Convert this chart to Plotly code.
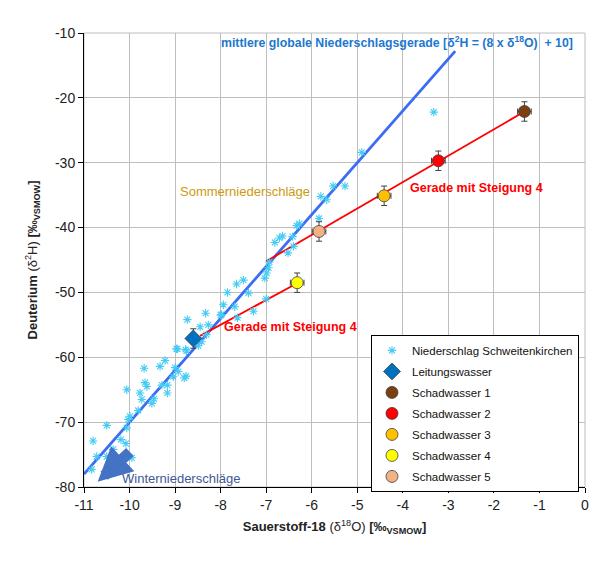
import plotly.graph_objects as go

# --- data ---
precip_x = [-10.83, -10.80, -10.72, -10.50, -10.50, -10.36, -10.19, -10.08, -9.95, -10.06,
            -10.03, -10.06, -9.81, -9.73, -9.77, -9.62, -9.66, -9.68, -9.51, -9.46,
            -9.33, -9.22, -9.29, -9.17, -9.17, -9.04, -9.00, -8.93, -8.80, -8.76,
            -8.95, -8.75, -8.73, -8.49, -8.42, -8.45, -8.33, -8.27, -8.31, -8.00,
            -7.98, -7.94, -7.85, -7.69, -7.63, -7.65, -7.50, -7.39, -7.28, -7.00,
            -7.03, -6.99, -6.95, -6.93, -6.81, -6.71, -6.64, -6.52, -6.40, -6.33,
            -6.27, -6.42, -5.84, -5.80, -5.67, -5.53, -5.27, -4.90, -3.32, -9.99,
            -8.97, -8.77]
precip_y = [-77.3, -72.9, -75.3, -75.3, -70.5, -74.2, -72.7, -73.3, -75.5, -70.9,
            -69.6, -65.0, -68.2, -66.5, -65.5, -64.5, -63.9, -61.7, -67.1, -66.4,
            -61.4, -60.5, -64.3, -65.5, -64.3, -63.0, -61.6, -62.2, -63.2, -62.9,
            -58.7, -59.0, -54.2, -58.2, -57.6, -55.3, -53.2, -55.0, -56.5, -53.5,
            -53.4, -51.9, -50.0, -52.2, -53.9, -48.7, -48.1, -50.1, -52.9, -51.0,
            -47.8, -47.0, -46.2, -45.3, -42.3, -41.6, -41.3, -43.9, -42.9, -39.7,
            -39.4, -41.4, -38.6, -35.2, -35.7, -33.6, -33.6, -28.4, -22.2, -69.1,
            -58.7, -58.8]

gmwl_x = [-11.0, -2.85]
gmwl_y = [-78.0, -12.8]

slope4a_x = [-7.0, -1.3]
slope4a_y = [-45.2, -22.0]
slope4b_x = [-8.45, -6.3]
slope4b_y = [-56.7, -48.5]

samples = ["Leitungswasser", "Schadwasser 1", "Schadwasser 2", "Schadwasser 3",
           "Schadwasser 4", "Schadwasser 5"]
sample_x = [-8.6, -1.33, -3.22, -4.41, -6.32, -5.84]
sample_y = [-57.1, -22.1, -29.7, -35.1, -48.5, -40.6]
sample_err_y = [1.5, 1.5, 1.5, 1.5, 1.5, 1.5]
sample_err_x = [0.0, 0.15, 0.15, 0.15, 0.15, 0.15]
sample_colors = ["#0070C0", "#7B3F12", "#FF0000", "#FFC000", "#FFFF00", "#F4B183"]
sample_symbols = ["diamond", "circle", "circle", "circle", "circle", "circle"]

x_ticks = [-11, -10, -9, -8, -7, -6, -5, -4, -3, -2, -1, 0]
x_ticklabels = ["-11", "-10", "-9", "-8", "-7", "-6", "-5", "-4", "-3", "-2", "-1", "0"]
y_ticks = [-80, -70, -60, -50, -40, -30, -20, -10]
y_ticklabels = ["-80", "-70", "-60", "-50", "-40", "-30", "-20", "-10"]

FONT = "Liberation Sans, Arial, sans-serif"

fig = go.Figure()

fig.add_trace(go.Scatter(x=gmwl_x, y=gmwl_y, mode="lines",
                         line=dict(color="#3A6CF4", width=2.8),
                         showlegend=False, hoverinfo="skip"))
fig.add_trace(go.Scatter(x=slope4a_x, y=slope4a_y, mode="lines",
                         line=dict(color="#FF0000", width=1.8),
                         showlegend=False, hoverinfo="skip"))
fig.add_trace(go.Scatter(x=slope4b_x, y=slope4b_y, mode="lines",
                         line=dict(color="#FF0000", width=1.8),
                         showlegend=False, hoverinfo="skip"))

fig.add_trace(go.Scatter(x=precip_x, y=precip_y, mode="markers",
                         name="Niederschlag Schweitenkirchen",
                         legendgroup="g0",
                         marker=dict(symbol="asterisk-open", size=7,
                                     line=dict(color="#45CBF5", width=1.1),
                                     color="#45CBF5")))

for i, name in enumerate(samples):
    fig.add_trace(go.Scatter(
        x=[sample_x[i]], y=[sample_y[i]], mode="markers", name=name,
        legendgroup="g%d" % (i + 1),
        marker=dict(symbol=sample_symbols[i], color=sample_colors[i],
                    size=13 if i == 0 else 12,
                    line=dict(color="#404040", width=0.8)),
        error_y=dict(type="data", array=[sample_err_y[i]], color="#404040",
                     thickness=1, width=3),
        error_x=dict(type="data", array=[sample_err_x[i]], color="#404040",
                     thickness=1, width=3, visible=sample_err_x[i] > 0),
    ))

fig.add_annotation(x=-0.22, y=-11.4, xref="x", yref="y", xanchor="right",
                   text="<b>mittlere globale Niederschlagsgerade [δ<sup>2</sup>H = (8 x δ<sup>18</sup>O)  + 10]</b>",
                   showarrow=False, font=dict(family=FONT, size=12.3, color="#1C78D0"))
fig.add_annotation(x=-8.94, y=-34.5, xref="x", yref="y", xanchor="left",
                   text="Sommerniederschläge", showarrow=False,
                   font=dict(family=FONT, size=13, color="#CC9A10"))
fig.add_annotation(x=-3.89, y=-33.9, xref="x", yref="y", xanchor="left",
                   text="<b>Gerade mit Steigung 4</b>", showarrow=False,
                   font=dict(family=FONT, size=12.5, color="#FF0000"))
fig.add_annotation(x=-7.97, y=-55.3, xref="x", yref="y", xanchor="left",
                   text="<b>Gerade mit Steigung 4</b>", showarrow=False,
                   font=dict(family=FONT, size=12.5, color="#FF0000"))
fig.add_annotation(x=-10.21, y=-78.7, xref="x", yref="y", xanchor="left",
                   text="Winterniederschläge", showarrow=False,
                   font=dict(family=FONT, size=13, color="#3D5A98"))
fig.add_annotation(x=-10.70, y=-79.2, ax=-9.96, ay=-74.4, xref="x", yref="y",
                   axref="x", ayref="y", text="", showarrow=True,
                   arrowhead=2, arrowsize=0.62, arrowwidth=11, arrowcolor="#4472C4")

fig.update_layout(
    width=600, height=572,
    margin=dict(l=76, r=23, t=25, b=93),
    paper_bgcolor="white", plot_bgcolor="white",
    font=dict(family=FONT, size=14, color="#222222"),
    legend=dict(x=0.988, y=0.335, xanchor="right", yanchor="top",
                bgcolor="white", bordercolor="black", borderwidth=1,
                font=dict(family=FONT, size=11.5, color="#111111"),
                itemwidth=30,
                traceorder="grouped", tracegroupgap=2),
    xaxis=dict(range=[-11, 0], tickmode="array", tickvals=x_ticks, ticktext=x_ticklabels,
               showgrid=True, gridcolor="#BEBEBE", automargin=False,
               gridwidth=1, zeroline=False, showline=True, linecolor="black",
               linewidth=1, ticks="outside", ticklen=5, tickcolor="black",
               tickfont=dict(size=14),
               title=dict(text="<b>Sauerstoff-18</b> (δ<sup>18</sup>O) <b>[‰<sub>VSMOW</sub>]</b>",
                          font=dict(size=13), standoff=10)),
    yaxis=dict(range=[-80, -10], tickmode="array", tickvals=y_ticks, ticktext=y_ticklabels,
               showgrid=True, gridcolor="#BEBEBE", automargin=False,
               gridwidth=1, zeroline=False, showline=True, linecolor="black",
               linewidth=1, ticks="outside", ticklen=5, tickcolor="black",
               tickfont=dict(size=14),
               title=dict(text="<b>Deuterium</b> (δ<sup>2</sup>H) <b>[‰<sub>VSMOW</sub>]</b>",
                          font=dict(size=13), standoff=14)),
)

fig.add_shape(type="rect", xref="paper", yref="paper", x0=0, y0=0, x1=1, y1=1,
              line=dict(color="#BEBEBE", width=1), layer="below")

fig.write_html("out.html")
